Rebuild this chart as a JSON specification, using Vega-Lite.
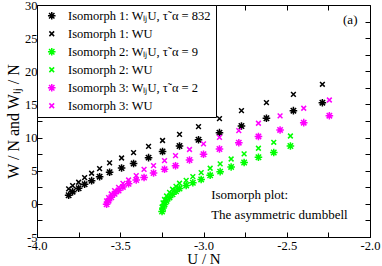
{
  "$schema": "https://vega.github.io/schema/vega-lite/v6.json",
  "width": 333,
  "height": 232,
  "autosize": {"type": "none"},
  "padding": {"left": 37, "top": 5, "right": 12, "bottom": 29},
  "config": {
    "font": "Liberation Serif",
    "view": {"stroke": "black", "strokeWidth": 1},
    "axis": {
      "grid": false,
      "domainColor": "black",
      "tickColor": "black",
      "labelColor": "black",
      "titleColor": "black",
      "labelFont": "Liberation Serif",
      "titleFont": "Liberation Serif",
      "labelFontSize": 12.5,
      "titleFontSize": 16,
      "titleFontWeight": "normal",
      "tickSize": -5,
      "labelPadding": 3
    }
  },
  "datasets": {
    "pts": [
      {"s":"1LJ","u":-3.810,"w":1.30},{"s":"1LJ","u":-3.786,"w":1.84},{"s":"1LJ","u":-3.750,"w":2.35},{"s":"1LJ","u":-3.714,"w":2.96},{"s":"1LJ","u":-3.672,"w":3.50},{"s":"1LJ","u":-3.624,"w":4.10},{"s":"1LJ","u":-3.564,"w":4.77},{"s":"1LJ","u":-3.492,"w":5.41},{"s":"1LJ","u":-3.420,"w":6.09},{"s":"1LJ","u":-3.330,"w":6.97},{"s":"1LJ","u":-3.246,"w":7.90},{"s":"1LJ","u":-3.144,"w":8.73},{"s":"1LJ","u":-3.030,"w":9.67},{"s":"1LJ","u":-2.904,"w":10.74},{"s":"1LJ","u":-2.772,"w":11.75},{"s":"1LJ","u":-2.622,"w":12.91},{"s":"1LJ","u":-2.460,"w":14.06},{"s":"1LJ","u":-2.286,"w":15.26},
      {"s":"1W","u":-3.810,"w":2.25},{"s":"1W","u":-3.786,"w":2.75},{"s":"1W","u":-3.750,"w":3.26},{"s":"1W","u":-3.714,"w":3.95},{"s":"1W","u":-3.672,"w":4.62},{"s":"1W","u":-3.624,"w":5.31},{"s":"1W","u":-3.564,"w":6.17},{"s":"1W","u":-3.492,"w":6.92},{"s":"1W","u":-3.420,"w":7.72},{"s":"1W","u":-3.330,"w":8.66},{"s":"1W","u":-3.246,"w":9.56},{"s":"1W","u":-3.144,"w":10.47},{"s":"1W","u":-3.030,"w":11.64},{"s":"1W","u":-2.904,"w":12.85},{"s":"1W","u":-2.772,"w":14.06},{"s":"1W","u":-2.622,"w":15.26},{"s":"1W","u":-2.460,"w":16.53},{"s":"1W","u":-2.286,"w":18.04},
      {"s":"2LJ","u":-3.249,"w":-1.15},{"s":"2LJ","u":-3.243,"w":-0.62},{"s":"2LJ","u":-3.234,"w":-0.09},{"s":"2LJ","u":-3.222,"w":0.44},{"s":"2LJ","u":-3.204,"w":0.97},{"s":"2LJ","u":-3.186,"w":1.45},{"s":"2LJ","u":-3.165,"w":1.90},{"s":"2LJ","u":-3.144,"w":2.32},{"s":"2LJ","u":-3.104,"w":2.78},{"s":"2LJ","u":-3.064,"w":3.18},{"s":"2LJ","u":-3.014,"w":3.68},{"s":"2LJ","u":-2.960,"w":4.31},{"s":"2LJ","u":-2.900,"w":4.86},{"s":"2LJ","u":-2.834,"w":5.57},{"s":"2LJ","u":-2.756,"w":6.24},{"s":"2LJ","u":-2.670,"w":7.03},{"s":"2LJ","u":-2.578,"w":7.75},{"s":"2LJ","u":-2.478,"w":8.73},
      {"s":"2W","u":-3.249,"w":-0.47},{"s":"2W","u":-3.243,"w":0.14},{"s":"2W","u":-3.234,"w":0.66},{"s":"2W","u":-3.222,"w":1.19},{"s":"2W","u":-3.204,"w":1.72},{"s":"2W","u":-3.186,"w":2.20},{"s":"2W","u":-3.165,"w":2.65},{"s":"2W","u":-3.144,"w":3.11},{"s":"2W","u":-3.104,"w":3.53},{"s":"2W","u":-3.064,"w":4.10},{"s":"2W","u":-3.014,"w":4.71},{"s":"2W","u":-2.960,"w":5.37},{"s":"2W","u":-2.900,"w":6.02},{"s":"2W","u":-2.834,"w":6.77},{"s":"2W","u":-2.756,"w":7.53},{"s":"2W","u":-2.670,"w":8.39},{"s":"2W","u":-2.578,"w":9.29},{"s":"2W","u":-2.478,"w":10.24},
      {"s":"3LJ","u":-3.582,"w":-0.06},{"s":"3LJ","u":-3.570,"w":0.48},{"s":"3LJ","u":-3.554,"w":1.00},{"s":"3LJ","u":-3.534,"w":1.52},{"s":"3LJ","u":-3.510,"w":2.02},{"s":"3LJ","u":-3.484,"w":2.55},{"s":"3LJ","u":-3.450,"w":3.03},{"s":"3LJ","u":-3.404,"w":3.60},{"s":"3LJ","u":-3.357,"w":3.98},{"s":"3LJ","u":-3.300,"w":4.66},{"s":"3LJ","u":-3.234,"w":5.22},{"s":"3LJ","u":-3.168,"w":5.76},{"s":"3LJ","u":-3.084,"w":6.62},{"s":"3LJ","u":-3.000,"w":7.48},{"s":"3LJ","u":-2.904,"w":8.28},{"s":"3LJ","u":-2.788,"w":9.23},{"s":"3LJ","u":-2.670,"w":10.17},{"s":"3LJ","u":-2.540,"w":11.15},{"s":"3LJ","u":-2.398,"w":12.25},{"s":"3LJ","u":-2.244,"w":13.30},
      {"s":"3W","u":-3.582,"w":0.44},{"s":"3W","u":-3.570,"w":0.94},{"s":"3W","u":-3.554,"w":1.49},{"s":"3W","u":-3.534,"w":1.99},{"s":"3W","u":-3.510,"w":2.50},{"s":"3W","u":-3.484,"w":3.08},{"s":"3W","u":-3.450,"w":3.60},{"s":"3W","u":-3.404,"w":4.25},{"s":"3W","u":-3.357,"w":5.19},{"s":"3W","u":-3.300,"w":5.76},{"s":"3W","u":-3.234,"w":6.52},{"s":"3W","u":-3.168,"w":7.27},{"s":"3W","u":-3.084,"w":8.20},{"s":"3W","u":-3.000,"w":9.06},{"s":"3W","u":-2.904,"w":10.02},{"s":"3W","u":-2.788,"w":11.04},{"s":"3W","u":-2.670,"w":12.16},{"s":"3W","u":-2.540,"w":13.26},{"s":"3W","u":-2.398,"w":14.42},{"s":"3W","u":-2.244,"w":15.67}
    ],
    "notes": [
      {"u": -2.954, "w": 1.34, "t": "Isomorph plot:"},
      {"u": -2.954, "w": -1.67, "t": "The asymmetric dumbbell"},
      {"u": -2.162, "w": 27.74, "t": "(a)"}
    ]
  },
  "layer": [
    {
      "data": {"name": "pts"},
      "mark": {"type": "point", "filled": false, "strokeWidth": 1.5, "size": 40, "opacity": 1},
      "encoding": {
        "x": {
          "field": "u", "type": "quantitative",
          "scale": {"domain": [-4, -2], "nice": false, "zero": false},
          "axis": {
            "orient": "bottom", "title": "U / N",
            "values": [-4, -3.75, -3.5, -3.25, -3, -2.75, -2.5, -2.25, -2],
            "labelExpr": "(round(datum.value*4) % 2 == 0) ? replace(format(datum.value, '.1f'), '\u2212', '-') : ''",
            "labelFlush": false, "labelPadding": 7, "titlePadding": 0, "titleFontSize": 15
          }
        },
        "y": {
          "field": "w", "type": "quantitative",
          "scale": {"domain": [-5, 30], "nice": false, "zero": false},
          "axis": {
            "orient": "left", "title": "W / N and W\u2097\u2c7c / N",
            "values": [-5, -2.5, 0, 2.5, 5, 7.5, 10, 12.5, 15, 17.5, 20, 22.5, 25, 27.5, 30],
            "labelExpr": "(round(datum.value/2.5) % 2 == 0) ? replace(format(datum.value, 'd'), '\u2212', '-') : ''",
            "labelFlush": false, "labelPadding": 5, "titlePadding": 3
          }
        },
        "color": {
          "field": "s", "type": "nominal",
          "scale": {
            "domain": ["1LJ", "1W", "2LJ", "2W", "3LJ", "3W"],
            "range": ["#000000", "#000000", "#00ff00", "#00ff00", "#ff00ff", "#ff00ff"]
          },
          "legend": {
            "orient": "top-left", "offset": 0, "title": null,
            "strokeColor": "black", "fillColor": "white", "padding": 4.5,
            "labelFont": "Liberation Serif", "labelFontSize": 12.5, "labelColor": "black",
            "rowPadding": 4, "labelOffset": 10, "symbolOffset": 4, "symbolSize": 40, "symbolStrokeWidth": 1.5,
            "labelExpr": "datum.label == '1LJ' ? 'Isomorph 1: W\u2097\u2c7cU, \u03c4\u02dc\u03b1 = 832' : datum.label == '1W' ? 'Isomorph 1: WU' : datum.label == '2LJ' ? 'Isomorph 2: W\u2097\u2c7cU, \u03c4\u02dc\u03b1 = 9' : datum.label == '2W' ? 'Isomorph 2: WU' : datum.label == '3LJ' ? 'Isomorph 3: W\u2097\u2c7cU, \u03c4\u02dc\u03b1 = 2' : 'Isomorph 3: WU'"
          }
        },
        "shape": {
          "field": "s", "type": "nominal",
          "scale": {
            "domain": ["1LJ", "1W", "2LJ", "2W", "3LJ", "3W"],
            "range": [
              "M-1.2,0L1.2,0M0,-1.2L0,1.2M-0.85,-0.85L0.85,0.85M-0.85,0.85L0.85,-0.85",
              "M-0.75,-0.75L0.75,0.75M-0.75,0.75L0.75,-0.75",
              "M-1.2,0L1.2,0M0,-1.2L0,1.2M-0.85,-0.85L0.85,0.85M-0.85,0.85L0.85,-0.85",
              "M-0.75,-0.75L0.75,0.75M-0.75,0.75L0.75,-0.75",
              "M-1.2,0L1.2,0M0,-1.2L0,1.2M-0.85,-0.85L0.85,0.85M-0.85,0.85L0.85,-0.85",
              "M-0.75,-0.75L0.75,0.75M-0.75,0.75L0.75,-0.75"
            ]
          }
        }
      }
    },
    {
      "data": {"name": "notes"},
      "mark": {"type": "text", "align": "left", "baseline": "middle", "font": "Liberation Serif", "fontSize": 13, "color": "black"},
      "encoding": {
        "x": {
          "field": "u", "type": "quantitative",
          "axis": {"orient": "top", "title": null, "labels": false, "domain": false,
                   "values": [-4, -3.75, -3.5, -3.25, -3, -2.75, -2.5, -2.25, -2]}
        },
        "y": {
          "field": "w", "type": "quantitative",
          "axis": {"orient": "right", "title": null, "labels": false, "domain": false,
                   "values": [-5, -2.5, 0, 2.5, 5, 7.5, 10, 12.5, 15, 17.5, 20, 22.5, 25, 27.5, 30]}
        },
        "text": {"field": "t", "type": "nominal"}
      }
    }
  ],
  "resolve": {"axis": {"x": "independent", "y": "independent"}}
}
